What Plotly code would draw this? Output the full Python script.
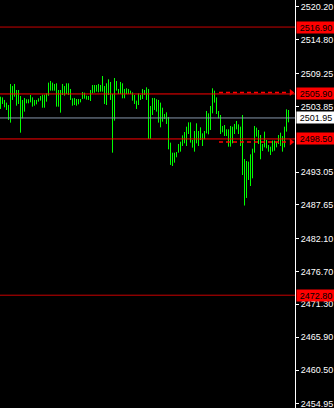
import plotly.graph_objects as go

# ---- data ----
highs = [
    2505.45, 2505.34, 2504.91, 2504.47, 2504.08, 2507.54, 2507.21, 2507.54, 2506.55, 2506.55,
    2505.56, 2504.91, 2505.24, 2505.02, 2505.02, 2505.73, 2505.34, 2504.91, 2504.91, 2505.18,
    2505.56, 2505.78, 2505.78, 2506.00, 2507.76,
    2508.03, 2507.76, 2507.54, 2507.65, 2506.55, 2506.55, 2507.54, 2507.21, 2507.65, 2507.65,
    2506.72, 2505.18, 2505.24, 2505.07, 2505.07, 2505.07, 2506.22, 2506.11, 2505.62, 2505.56,
    2506.55, 2507.37, 2507.37, 2507.37,
    2507.54, 2507.37, 2508.85, 2507.21, 2507.65, 2508.31, 2507.87, 2505.89, 2508.52, 2508.03,
    2506.72, 2507.87, 2507.65, 2506.72, 2506.83, 2506.72, 2506.44, 2506.17, 2505.73, 2504.80,
    2506.00, 2505.73, 2506.72, 2506.55,
    2506.99, 2506.72, 2503.92, 2505.24, 2505.24, 2505.02, 2504.91, 2504.47, 2503.64, 2502.60,
    2502.88, 2502.11, 2497.89, 2496.24, 2496.24, 2496.35, 2497.67, 2498.05, 2499.09, 2499.64,
    2500.52, 2501.23, 2501.23, 2498.33,
    2499.81, 2501.07, 2499.81, 2500.41, 2499.42, 2499.81, 2503.10, 2502.71, 2503.92, 2506.83,
    2506.44, 2505.34, 2503.10, 2502.44, 2500.63, 2500.79, 2500.08, 2500.08, 2500.63, 2500.52,
    2500.96, 2501.45, 2500.90, 2500.52,
    2502.44, 2495.20, 2494.87, 2494.76, 2495.97, 2496.90, 2500.63, 2500.36, 2499.97, 2499.15,
    2497.67, 2499.70, 2498.33, 2497.50, 2497.23, 2498.22, 2498.22, 2498.05, 2499.15, 2499.53,
    2498.98, 2500.52, 2503.37, 2503.26,
]
lows = [
    2503.43, 2504.25, 2503.70, 2503.26, 2501.62, 2501.18, 2504.91, 2505.45, 2503.97, 2504.25,
    2499.53, 2501.89, 2502.99, 2504.36, 2504.36, 2504.52, 2503.81, 2503.97, 2504.19, 2504.63,
    2504.80, 2503.64, 2503.64, 2504.63, 2505.60,
    2506.44, 2506.44, 2506.44, 2503.81, 2503.81, 2502.82, 2505.73, 2505.62, 2505.89, 2505.73,
    2504.91, 2503.97, 2504.08, 2503.97, 2504.19, 2504.52, 2505.07, 2505.13, 2504.96, 2504.91,
    2504.74, 2506.00, 2506.11, 2506.28,
    2506.17, 2506.28, 2506.28, 2504.25, 2504.08, 2505.73, 2504.91, 2496.24, 2501.51, 2506.44,
    2505.89, 2505.89, 2505.18, 2505.18, 2505.89, 2505.89, 2505.89, 2504.80, 2504.25, 2503.43,
    2504.08, 2504.91, 2505.07, 2505.73,
    2504.91, 2498.49, 2498.49, 2502.44, 2503.26, 2502.99, 2501.18, 2500.41, 2501.34, 2501.78,
    2500.96, 2496.79, 2494.22, 2494.05, 2494.60, 2495.48, 2496.24, 2496.41, 2497.34, 2497.78,
    2497.34, 2499.31, 2497.89, 2497.07,
    2496.41, 2497.78, 2497.34, 2498.33, 2497.34, 2498.44, 2499.42, 2499.26, 2499.97, 2502.71,
    2504.47, 2502.60, 2501.89, 2499.31, 2499.59, 2498.98, 2498.98, 2497.23, 2497.23, 2497.78,
    2499.31, 2500.08, 2499.31, 2497.34,
    2492.57, 2487.55, 2488.79, 2491.75, 2490.76, 2492.02, 2496.24, 2498.88, 2497.67, 2495.15,
    2496.52, 2497.12, 2496.96, 2496.41, 2495.86, 2496.41, 2496.57, 2497.12, 2497.67, 2497.34,
    2496.41, 2497.12, 2499.70, 2501.23,
]

tick_values = [2520.20, 2514.80, 2509.25, 2503.85, 2493.05, 2487.65, 2482.10,
               2476.70, 2471.30, 2465.90, 2460.50, 2454.95]

level_prices = [2516.90, 2505.90, 2498.50, 2472.80]
level_colors = ["#c80000", "#ff0000", "#ff0000", "#c80000"]
current_price = 2501.95

order_prices = [2506.15, 2498.00]
order_start = 109.25
order_end = 144.25
order_arrow_x = 145.4

# ---- figure ----
xs, ys = [], []
for k, (h, l) in enumerate(zip(highs, lows)):
    xs += [k, k, None]
    ys += [l, h, None]

fig = go.Figure()
fig.add_trace(go.Scatter(x=xs, y=ys, mode="lines",
                         line=dict(color="#00ff00", width=1),
                         hoverinfo="skip"))

shapes = []
for p, c in zip(level_prices, level_colors):
    shapes.append(dict(type="line", xref="paper", x0=0, x1=1, yref="y", y0=p, y1=p,
                       line=dict(color=c, width=1)))
shapes.append(dict(type="line", xref="paper", x0=0, x1=1, yref="y",
                   y0=current_price, y1=current_price,
                   line=dict(color="#8796ab", width=1)))
for p in order_prices:
    shapes.append(dict(type="line", xref="x", x0=order_start, x1=order_end, yref="y",
                       y0=p, y1=p, line=dict(color="#ff0000", width=1.5, dash="4px,3px")))

fig.add_trace(go.Scatter(x=[order_arrow_x] * len(order_prices), y=order_prices,
                         mode="markers",
                         marker=dict(symbol="triangle-right", size=6, color="#ff0000"),
                         hoverinfo="skip", cliponaxis=False))

annotations = []
for p in level_prices:
    annotations.append(dict(xref="paper", x=1, xanchor="left", xshift=1,
                            yref="y", y=p, yanchor="middle", showarrow=False,
                            text=f"{p:.2f}", bgcolor="#ff0000", width=38, height=11,
                            borderpad=0, font=dict(color="#000000", size=9,
                                                   family="Liberation Sans, Arial")))
annotations.append(dict(xref="paper", x=1, xanchor="left", xshift=1,
                        yref="y", y=current_price, yanchor="middle", showarrow=False,
                        text=f"{current_price:.2f}", bgcolor="#ffffff", width=38, height=11,
                        borderpad=0, font=dict(color="#000000", size=9,
                                               family="Liberation Sans, Arial")))

fig.update_layout(
    width=334, height=408,
    margin=dict(l=0, r=39, t=0, b=0),
    paper_bgcolor="#000000", plot_bgcolor="#000000",
    showlegend=False,
    shapes=shapes, annotations=annotations,
    xaxis=dict(visible=False, range=[-0.25, 147.25], fixedrange=True),
    yaxis=dict(side="right", range=[2454.25, 2521.35],
               tickvals=tick_values, ticktext=[f"{v:.2f}" for v in tick_values],
               tickfont=dict(color="#ffffff", size=9, family="Liberation Sans, Arial"),
               ticks="outside", ticklen=3, tickcolor="#ffffff", tickwidth=1,
               ticklabeloverflow="allow",
               showline=True, linecolor="#ffffff", linewidth=1,
               showgrid=False, zeroline=False, fixedrange=True),
)

fig.write_html("out.html")
